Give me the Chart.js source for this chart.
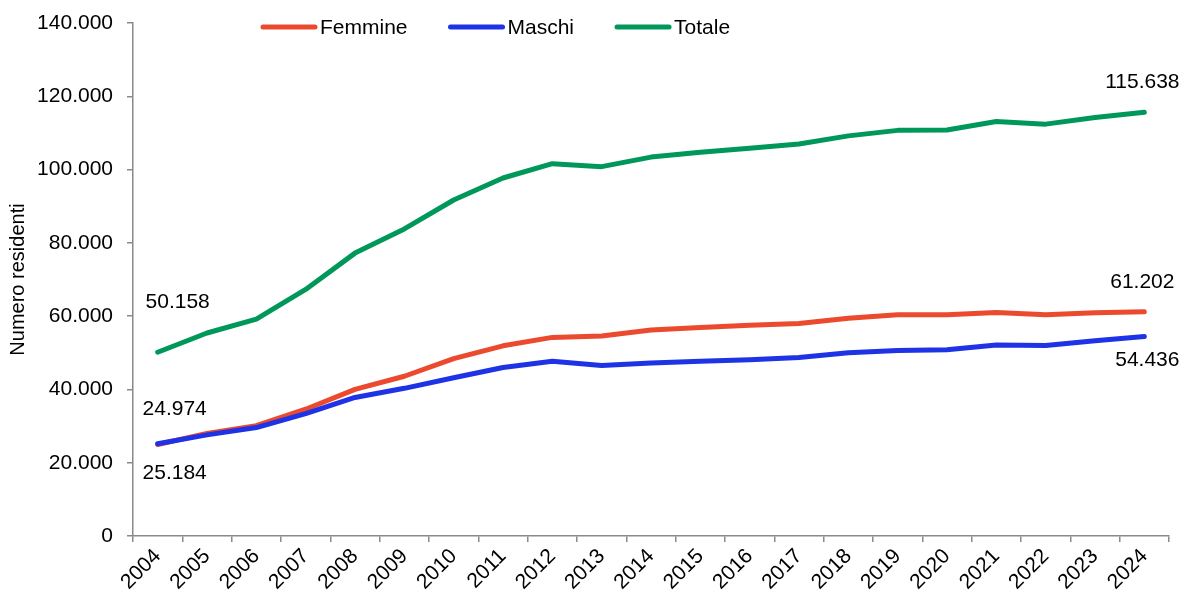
<!DOCTYPE html>
<html lang="it">
<head>
<meta charset="utf-8">
<title>Numero residenti 2004-2024</title>
<script src="https://cdn.jsdelivr.net/npm/chart.js@4/dist/chart.umd.min.js"></script>
<style>
    html, body { margin: 0; padding: 0; background: #fff; }
</style>
</head>
<body>
<canvas id="graficoResidenti" width="1184" height="595"></canvas>
<script>
// Dati
const anni = ['2004', '2005', '2006', '2007', '2008', '2009', '2010', '2011', '2012', '2013', '2014',
              '2015', '2016', '2017', '2018', '2019', '2020', '2021', '2022', '2023', '2024'];
const femmine = [24974, 28000, 30100, 34600, 40000, 43600, 48400, 51900, 54200, 54600, 56200,
                 56900, 57500, 58000, 59400, 60400, 60400, 61000, 60400, 60900, 61202];
const maschi = [25184, 27600, 29600, 33400, 37800, 40300, 43200, 46000, 47700, 46500, 47200,
                47700, 48100, 48700, 50000, 50600, 50800, 52100, 52000, 53300, 54436];
const totale = [50158, 55400, 59200, 67300, 77200, 83800, 91700, 97700, 101600, 100800, 103400,
                104700, 105800, 107000, 109200, 110700, 110800, 113100, 112400, 114200, 115638];
const tickY = [0, 20000, 40000, 60000, 80000, 100000, 120000, 140000];

const ROSSO = '#EB4A2F';
const BLU = '#1E33E6';
const VERDE = '#00985A';
const GRIGIO = '#8a8a8a';
const FONT = 'Arial, "Liberation Sans", sans-serif';
const DIM = 21;

// Formato italiano: 115638 -> 115.638
const formatta = (n) => String(n).replace(/\B(?=(\d{3})+(?!\d))/g, '.');

// Legenda disegnata dentro l'area del grafico
const legendaPlugin = {
    id: 'legendaInterna',
    afterDraw(chart) {
        const ctx = chart.ctx;
        const voci = [
            { label: 'Femmine', colore: ROSSO },
            { label: 'Maschi', colore: BLU },
            { label: 'Totale', colore: VERDE }
        ];
        let x = 263;
        const y = 27;
        ctx.save();
        ctx.font = DIM + 'px ' + FONT;
        ctx.textBaseline = 'middle';
        ctx.textAlign = 'left';
        voci.forEach(v => {
            ctx.strokeStyle = v.colore;
            ctx.lineWidth = 5;
            ctx.lineCap = 'round';
            ctx.beginPath();
            ctx.moveTo(x, y);
            ctx.lineTo(x + 52, y);
            ctx.stroke();
            ctx.fillStyle = '#000';
            ctx.fillText(v.label, x + 57, y + 1);
            x += 57 + ctx.measureText(v.label).width + 43;
        });
        ctx.restore();
    }
};

// Etichette sul primo e ultimo punto di ogni serie
const etichettePlugin = {
    id: 'etichetteEstremi',
    afterDatasetsDraw(chart) {
        const ctx = chart.ctx;
        const spostamenti = {
            Femmine: { inizio: [17, -35], fine: [-2, -30] },
            Maschi: { inizio: [17, 29], fine: [3, 24] },
            Totale: { inizio: [20, -50], fine: [-2, -30] }
        };
        ctx.save();
        ctx.font = DIM + 'px ' + FONT;
        ctx.fillStyle = '#000';
        ctx.textAlign = 'center';
        ctx.textBaseline = 'middle';
        chart.data.datasets.forEach((ds, i) => {
            const meta = chart.getDatasetMeta(i);
            const s = spostamenti[ds.label];
            const ultimo = ds.data.length - 1;
            [[0, s.inizio], [ultimo, s.fine]].forEach(([idx, d]) => {
                const p = meta.data[idx];
                ctx.fillText(formatta(ds.data[idx]), p.x + d[0], p.y + d[1]);
            });
        });
        ctx.restore();
    }
};

const serie = (label, dati, colore, ordine) => ({
    label: label,
    data: dati,
    borderColor: colore,
    backgroundColor: colore,
    borderWidth: 5,
    borderCapStyle: 'round',
    borderJoinStyle: 'round',
    pointRadius: 0,
    tension: 0,
    fill: false,
    order: ordine
});

new Chart(document.getElementById('graficoResidenti'), {
    type: 'line',
    data: {
        labels: anni,
        datasets: [
            serie('Femmine', femmine, ROSSO, 1),
            serie('Maschi', maschi, BLU, 0),
            serie('Totale', totale, VERDE, 2)
        ]
    },
    options: {
        responsive: false,
        animation: false,
        layout: { padding: { top: 23, right: 15, bottom: 0, left: 0 } },
        plugins: {
            legend: { display: false },
            tooltip: { enabled: false }
        },
        scales: {
            x: {
                offset: true,
                grid: { offset: true, drawOnChartArea: false, drawTicks: true, tickLength: 6, color: GRIGIO, lineWidth: 1.5 },
                border: { color: GRIGIO, width: 1.5 },
                ticks: {
                    font: { family: FONT, size: DIM },
                    color: '#000',
                    minRotation: 45,
                    maxRotation: 45,
                    autoSkip: false,
                    padding: 2
                },
                afterFit(scale) { scale.height = 59; }
            },
            y: {
                min: 0,
                max: 140000,
                afterBuildTicks(scale) { scale.ticks = tickY.map(v => ({ value: v })); },
                grid: { drawOnChartArea: false, drawTicks: true, tickLength: 6, color: GRIGIO, lineWidth: 1.5 },
                border: { color: GRIGIO, width: 1.5 },
                ticks: {
                    font: { family: FONT, size: DIM },
                    color: '#000',
                    padding: 14,
                    callback: (v) => formatta(v)
                },
                title: {
                    display: true,
                    text: 'Numero residenti',
                    font: { family: FONT, size: 20 },
                    color: '#000',
                    padding: { top: 6, bottom: 0 }
                },
                afterFit(scale) {
                    scale.width = 133;
                    scale.paddingTop = 0;
                    scale.paddingBottom = 0;
                }
            }
        }
    },
    plugins: [legendaPlugin, etichettePlugin]
});
</script>
</body>
</html>
